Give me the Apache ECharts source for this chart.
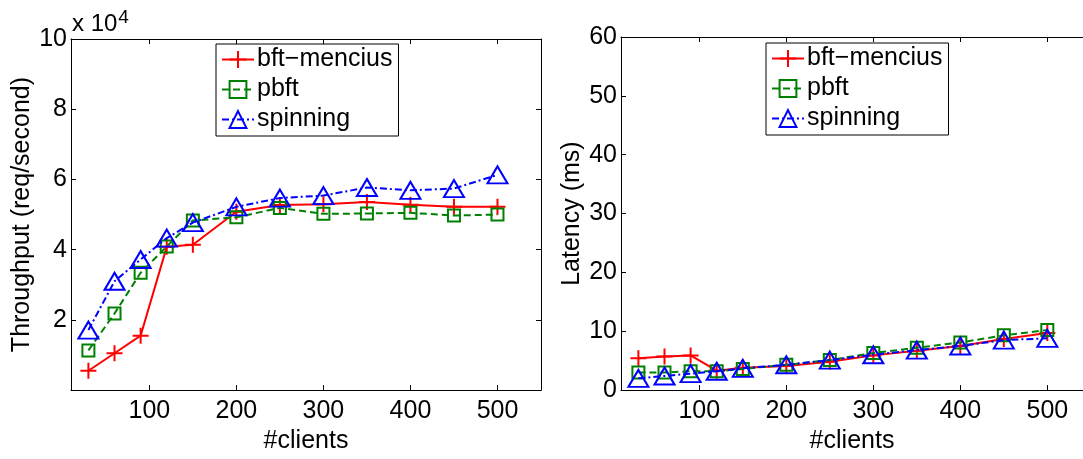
<!DOCTYPE html>
<html>
<head>
<meta charset="utf-8">
<script src="https://cdn.jsdelivr.net/npm/echarts@6/dist/echarts.min.js"></script>
<style>
  html, body { margin: 0; padding: 0; background: #fff; }
  #chart { width: 1083px; height: 459px; }
</style>
</head>
<body>
<div id="chart"></div>
<script>
// Number of clients (shared x values of both panels)
const clients = [30, 60, 90, 120, 150, 200, 250, 300, 350, 400, 450, 500];
const xTicks = [100, 200, 300, 400, 500];

// Throughput in req/second
const thrBftMencius = [5500, 10500, 15500, 40800, 41400, 50800, 52700, 52900, 53600, 52800, 52200, 52200];
const thrPbft       = [11300, 21800, 33400, 40900, 48300, 49200, 51900, 50200, 50300, 50500, 49700, 50000];
const thrSpinning   = [17100, 31000, 37200, 43300, 47700, 52200, 54700, 55400, 57700, 56900, 57400, 61300];
const thrTicks = [0, 20000, 40000, 60000, 80000, 100000];
const thrLabels = [20000, 40000, 60000, 80000, 100000];

// Latency in ms
const latBftMencius = [5.4, 5.7, 5.9, 3.3, 3.8, 4.1, 4.8, 5.9, 6.7, 7.5, 8.7, 9.7];
const latPbft       = [3.0, 3.0, 3.2, 3.2, 3.6, 4.3, 5.1, 6.3, 7.2, 8.1, 9.3, 10.2];
const latSpinning   = [2.0, 2.4, 2.8, 3.2, 3.7, 4.3, 5.1, 6.0, 6.8, 7.5, 8.5, 8.8];
const latTicks = [0, 10, 20, 30, 40, 50, 60];

const seriesNames = ['bft\u2212mencius', 'pbft', 'spinning'];

const FONT = 'Liberation Sans, Arial, Helvetica, sans-serif';
const FS = 25;
const RED = '#ff0000', GREEN = '#008000', BLUE = '#0000ff';
const PLUS = 'path://M0,5L10,5M5,0L5,10';

const pair = (xs, ys) => xs.map((x, i) => [x, ys[i]]);

function styleFor(k) {
  if (k === 0) return {
    symbol: PLUS, symbolSize: 16,
    itemStyle: { color: 'none', borderColor: RED, borderWidth: 2 },
    lineStyle: { color: RED, width: 2, type: 'solid' }
  };
  if (k === 1) return {
    symbol: 'rect', symbolSize: 12,
    itemStyle: { color: 'none', borderColor: GREEN, borderWidth: 2 },
    lineStyle: { color: GREEN, width: 2, type: [7, 4] }
  };
  return {
    symbol: 'triangle', symbolSize: [20, 17],
    itemStyle: { color: 'none', borderColor: BLUE, borderWidth: 2 },
    lineStyle: { color: BLUE, width: 2, type: [7, 3, 2, 3] }
  };
}

function makeSeries(k, data, xi, yi) {
  return Object.assign({
    type: 'line', name: seriesNames[k],
    xAxisIndex: xi, yAxisIndex: yi,
    data: data, showAllSymbol: true, animation: false,
    emphasis: { disabled: true }, z: 3 + k
  }, styleFor(k));
}

const axisText = { color: '#000', fontFamily: FONT, fontSize: FS };

function xAxis(grid, showLabels, pos, max) {
  return {
    type: 'value', gridIndex: grid, position: pos,
    min: 10, max: max,
    axisLine: { show: true, onZero: false, lineStyle: { color: '#000', width: 1 } },
    axisTick: { show: true, inside: true, length: 5, customValues: xTicks, lineStyle: { color: '#000' } },
    axisLabel: Object.assign({ show: showLabels, customValues: xTicks, margin: 9 }, axisText),
    splitLine: { show: false },
    name: showLabels ? '#clients' : '',
    nameLocation: 'middle', nameGap: 32,
    nameTextStyle: axisText
  };
}

function yAxis(grid, showLabels, pos, min, max, ticks, labels, name, fmt) {
  return {
    type: 'value', gridIndex: grid, position: pos,
    min: min, max: max,
    axisLine: { show: true, onZero: false, lineStyle: { color: '#000', width: 1 } },
    axisTick: { show: true, inside: true, length: 5, customValues: ticks, lineStyle: { color: '#000' } },
    axisLabel: Object.assign({ show: showLabels, customValues: labels, margin: 4, formatter: fmt }, axisText),
    splitLine: { show: false },
    name: showLabels ? name : '',
    nameLocation: 'middle', nameGap: 36,
    nameTextStyle: axisText
  };
}

function legendFor(left, top) {
  return {
    left: left, top: top, orient: 'vertical',
    data: seriesNames,
    itemWidth: 32, itemHeight: 21, itemGap: 5,
    padding: [3, 6, 4, 5],
    borderColor: '#000', borderWidth: 1, borderRadius: 0,
    backgroundColor: '#fff',
    textStyle: { color: '#000', fontFamily: FONT, fontSize: FS, padding: [0, 0, 0, -2] },
    selectedMode: false,
    inactiveColor: '#000'
  };
}

const option = {
  backgroundColor: '#fff',
  animation: false,
  grid: [
    { left: 71, top: 39, width: 470, height: 363, show: false },
    { left: 621, top: 37, width: 462, height: 366, show: false }
  ],
  xAxis: [
    xAxis(0, true, 'bottom', 550),
    xAxis(0, false, 'top', 550),
    xAxis(1, true, 'bottom', 541),
    xAxis(1, false, 'top', 541)
  ],
  yAxis: [
    yAxis(0, true, 'left', 0, 100000, thrTicks, thrLabels, 'Throughput (req/second)', v => String(v / 10000)),
    yAxis(0, false, 'right', 0, 100000, thrTicks, thrLabels, '', v => v),
    yAxis(1, true, 'left', 0, 60, latTicks, latTicks, 'Latency (ms)', v => String(v))
  ],
  legend: [
    legendFor(216, 44),
    legendFor(766, 43)
  ],
  graphic: [
    {
      type: 'text', left: 72, top: 8, z: 10,
      style: {
        text: '{a|x 10}{b|4}',
        rich: {
          a: { fontFamily: FONT, fontSize: 24, fill: '#000' },
          b: { fontFamily: FONT, fontSize: 19, fill: '#000', padding: [0, 0, 13, 1] }
        }
      }
    }
  ],
  series: [
    makeSeries(0, pair(clients, thrBftMencius), 0, 0),
    makeSeries(1, pair(clients, thrPbft), 0, 0),
    makeSeries(2, pair(clients, thrSpinning), 0, 0),
    makeSeries(0, pair(clients, latBftMencius), 2, 2),
    makeSeries(1, pair(clients, latPbft), 2, 2),
    makeSeries(2, pair(clients, latSpinning), 2, 2)
  ]
};

const chart = echarts.init(document.getElementById('chart'), null, { renderer: 'canvas' });
chart.setOption(option);
</script>
</body>
</html>
